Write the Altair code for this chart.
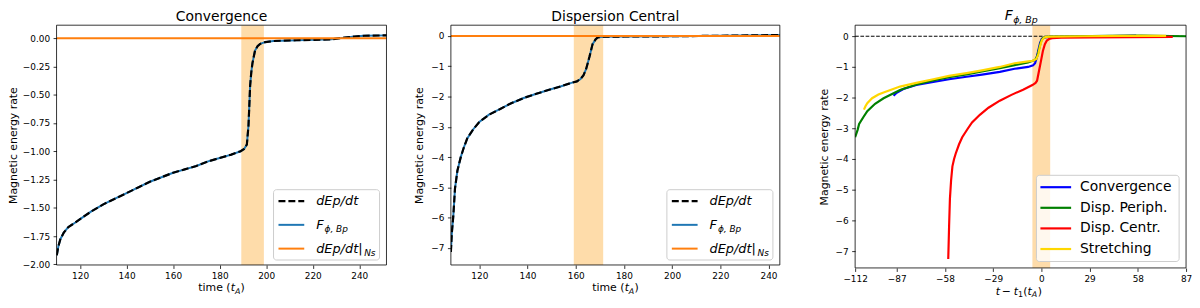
import altair as alt
import pandas as pd

FONT = "DejaVu Sans"

# ---------------- data ----------------
# Panel 1: Convergence
conv_time = [110.0, 110.7, 111.5, 113.0, 115.0, 118.0, 120.0, 125.0, 130.0, 135.0,
             140.0, 145.0, 150.0, 155.0, 160.0, 165.0, 170.0, 175.0, 180.0, 185.0,
             189.0, 190.5, 191.7, 192.4, 193.1, 193.6, 194.1, 195.2, 196.3, 197.4,
             199.5, 203.0, 213.0, 228.0, 233.6, 238.0, 242.0, 252.0]
conv_dep_dt = [-1.92, -1.84, -1.78, -1.72, -1.67, -1.63, -1.60, -1.53, -1.47, -1.42,
               -1.37, -1.32, -1.27, -1.23, -1.19, -1.16, -1.13, -1.09, -1.06, -1.03,
               -1.00, -0.98, -0.94, -0.77, -0.42, -0.30, -0.22, -0.11, -0.07, -0.05,
               -0.035, -0.025, -0.018, -0.01, 0.005, 0.015, 0.022, 0.025]
conv_f_bp = list(conv_dep_dt)
conv_ns_time = [110.0, 150.0, 190.0, 200.0, 252.0]
conv_ns = [0.0, 0.0, 0.0, 0.0, 0.0]
conv_band = [189.3, 199.0]

# Panel 2: Dispersion Central
disp_time = [108.2, 108.6, 109.2, 109.9, 110.9, 112.3, 113.5, 115.0, 117.5, 120.0,
             124.0, 128.7, 133.0, 138.7, 144.0, 149.3, 154.0, 158.2, 160.5, 162.0,
             163.2, 164.3, 165.7, 167.0, 168.2, 169.1, 171.1, 180.0, 200.0, 220.0, 244.7]
disp_dep_dt = [-7.13, -6.50, -5.95, -5.04, -4.45, -4.00, -3.70, -3.38, -3.08, -2.84,
               -2.60, -2.41, -2.23, -2.04, -1.90, -1.77, -1.66, -1.55, -1.50, -1.42,
               -1.30, -1.10, -0.69, -0.27, -0.12, -0.05, -0.025, -0.02, -0.01, 0.005, 0.03]
disp_f_bp = list(disp_dep_dt)
disp_ns_time = [108.2, 150.0, 170.0, 200.0, 244.7]
disp_ns = [0.0, 0.0, 0.0, 0.0, 0.0]
disp_band = [159.2, 171.4]

# Panel 3: F_phi,Bp vs t - t1
series_names = ["Convergence", "Disp. Periph.", "Disp. Centr.", "Stretching"]
series_colors = ["#0000ff", "#008000", "#ff0000", "#ffd700"]

fc_t = [-88.9, -87.0, -83.0, -75.2, -65.0, -55.5, -45.0, -35.7, -25.0, -16.1,
        -8.0, -5.0, -3.8, -2.8, -1.8, -0.8, 0.2, 1.2, 3.0, 6.0, 20.0, 35.0, 50.0, 57.0]
fc_v = [-1.94, -1.84, -1.72, -1.59, -1.49, -1.40, -1.32, -1.25, -1.16, -1.06,
        -1.00, -0.95, -0.88, -0.70, -0.45, -0.22, -0.09, -0.05, -0.03, -0.02, -0.01, 0.0, 0.01, 0.02]

fp_t = [-112.0, -110.5, -109.6, -107.0, -104.7, -100.0, -94.9, -85.0, -75.2, -65.0,
        -55.5, -45.0, -35.7, -25.0, -16.1, -8.0, -5.2, -3.5, -2.3, -1.3,
        -0.3, 0.8, 2.0, 5.0, 20.0, 40.0, 60.0, 87.0]
fp_v = [-3.29, -3.05, -2.86, -2.63, -2.44, -2.20, -2.02, -1.75, -1.57, -1.44,
        -1.33, -1.24, -1.15, -1.04, -0.94, -0.85, -0.80, -0.76, -0.62, -0.40,
        -0.18, -0.07, -0.03, -0.01, 0.0, 0.01, 0.02, 0.0]

dc_t = [-56.0, -55.5, -55.0, -54.3, -53.5, -52.5, -51.5, -49.5, -47.6, -44.5,
        -41.7, -37.0, -31.8, -25.0, -18.0, -11.0, -5.4, -3.5, -2.6, -1.5,
        -0.3, 0.9, 2.1, 3.3, 4.6, 6.5, 12.0, 30.0, 55.0, 79.0]
dc_v = [-7.26, -6.20, -5.30, -4.70, -4.24, -4.00, -3.82, -3.52, -3.29, -3.03,
        -2.81, -2.56, -2.33, -2.10, -1.91, -1.74, -1.59, -1.52, -1.45, -1.15,
        -0.82, -0.48, -0.26, -0.14, -0.09, -0.06, -0.05, -0.04, -0.03, -0.02]

fs_t = [-106.7, -105.8, -104.7, -101.8, -98.0, -94.9, -85.0, -75.2, -65.0, -55.5,
        -45.0, -35.7, -25.0, -16.1, -8.0, -5.2, -3.0, -1.8, -0.8, 0.3,
        1.5, 3.0, 6.0, 25.0, 50.0, 75.0]
fs_v = [-2.39, -2.28, -2.18, -2.02, -1.90, -1.83, -1.64, -1.52, -1.40, -1.29,
        -1.20, -1.11, -1.00, -0.88, -0.82, -0.80, -0.74, -0.58, -0.32, -0.13,
        -0.05, -0.02, -0.01, 0.0, 0.01, 0.01]

zero_t = [-112.0, 87.0]
zero_v = [0.0, 0.0]
f_band = [-5.4, 5.3]

conv_xticks = [120, 140, 160, 180, 200, 220, 240]
conv_yticks = [-2.0, -1.75, -1.5, -1.25, -1.0, -0.75, -0.5, -0.25, 0.0]
disp_xticks = [120, 140, 160, 180, 200, 220, 240]
disp_yticks = [-7, -6, -5, -4, -3, -2, -1, 0]
f_xticks = [-112, -87, -58, -29, 0, 29, 58, 87]
f_yticks = [-7, -6, -5, -4, -3, -2, -1, 0]

# ---------------- helpers ----------------
ONE = pd.DataFrame({"k": [0]})
BAND = "#fedcaa"
AX = dict(labelFont=FONT, labelFontSize=9, labelColor="black", tickColor="black",
          tickWidth=0.8, tickSize=3.5, labelPadding=3.5, domain=False, grid=False,
          labelFlush=False, labelOverlap=False)


def df(t, v):
    return pd.DataFrame({"t": t, "v": v})


def enc_x(dom, ticks):
    return alt.X("t:Q", scale=alt.Scale(domain=dom, nice=False, zero=False),
                 axis=alt.Axis(values=ticks, format="d", title=None, **AX))


def enc_y(dom, ticks, fmt, title_x):
    return alt.Y("v:Q", scale=alt.Scale(domain=dom, nice=False, zero=False),
                 axis=alt.Axis(values=ticks, format=fmt, title="Magnetic energy rate",
                               titleFont=FONT, titleFontSize=11, titleFontWeight="normal",
                               titleColor="black", titleX=title_x, **AX))


def line(data, ex, ey, color, width, dash=None):
    kw = dict(color=color, strokeWidth=width, clip=True)
    if dash:
        kw["strokeDash"] = dash
    return alt.Chart(data).mark_line(**kw).encode(x=ex, y=ey)


def band(b, ex, H):
    d = pd.DataFrame({"t": [b[0]], "t2": [b[1]]})
    return alt.Chart(d).mark_rect(color=BAND, clip=True).encode(
        x=ex, x2="t2:Q", y=alt.value(0), y2=alt.value(H))


def txt(s, x, y, size, italic=False, align="left", baseline="alphabetic"):
    kw = dict(text=s, font=FONT, fontSize=size, align=align, baseline=baseline, color="black")
    if italic:
        kw["fontStyle"] = "italic"
    return alt.Chart(ONE).mark_text(**kw).encode(x=alt.value(x), y=alt.value(y))


def hrule(x1, x2, y, color, width, dash=None):
    kw = dict(color=color, strokeWidth=width)
    if dash:
        kw["strokeDash"] = dash
    return alt.Chart(ONE).mark_rule(**kw).encode(x=alt.value(x1), x2=alt.value(x2), y=alt.value(y))


def box(x1, x2, y1, y2):
    return alt.Chart(ONE).mark_rect(fill="white", fillOpacity=0.8, stroke="#cccccc",
                                    strokeWidth=1, cornerRadius=3).encode(
        x=alt.value(x1), x2=alt.value(x2), y=alt.value(y1), y2=alt.value(y2))


def frame(W, H):
    return alt.Chart(ONE).mark_rect(fillOpacity=0, stroke="black", strokeWidth=0.8).encode(
        x=alt.value(0), x2=alt.value(W), y=alt.value(0), y2=alt.value(H))


def time_title(W, H):
    c = W / 2
    yb = H + 26.5
    return [txt("time (", c - 23.4, yb, 11),
            txt("t", c + 9.4, yb, 11, italic=True),
            txt("A", c + 13.6, yb + 2.5, 8, italic=True),
            txt(")", c + 19.2, yb, 11)]


def energy_legend(W, H):
    x1, x2 = W - 114, W - 7
    y1, y2 = H - 76, H - 5
    e = [y1 + 11.5, y1 + 35.5, y1 + 59.5]
    lx = x1 + 43
    return [box(x1, x2, y1, y2),
            hrule(x1 + 5, x1 + 31, e[0], "black", 2.2, [7, 3]),
            hrule(x1 + 5, x1 + 31, e[1], "#1f77b4", 2),
            hrule(x1 + 5, x1 + 31, e[2], "#ff7f0e", 2),
            txt("dEp/dt", lx, e[0] + 4, 13, italic=True),
            txt("F", lx, e[1] + 4, 13, italic=True),
            txt("ϕ, Bp", lx + 8.5, e[1] + 7.5, 9, italic=True),
            txt("dEp/dt|", lx, e[2] + 4, 13, italic=True),
            txt("Ns", lx + 48.5, e[2] + 7.5, 9, italic=True)]


def energy_panel(W, H, title, t, dep, fbp, ns_t, ns, b, xdom, ydom, xt, yt, fmt, tx):
    ex = enc_x(xdom, xt)
    ey = enc_y(ydom, yt, fmt, tx)
    layers = [band(b, ex, H),
              line(df(t, fbp), ex, ey, "#1f77b4", 2),
              line(df(t, dep), ex, ey, "black", 2.2, [7, 3]),
              line(df(ns_t, ns), ex, ey, "#ff7f0e", 2),
              frame(W, H),
              txt(title, W / 2, -4.5, 14, align="center")]
    layers += energy_legend(W, H)
    layers += time_title(W, H)
    return alt.layer(*layers).properties(width=W, height=H)


W1, H1 = 333, 242
W2, H2 = 332, 242
W3, H3 = 334, 245

p1 = energy_panel(W1, H1, "Convergence", conv_time, conv_dep_dt, conv_f_bp,
                  conv_ns_time, conv_ns, conv_band, [109.9, 251.7], [-2.006, 0.115],
                  conv_xticks, conv_yticks, ".2f", -38)
p2 = energy_panel(W2, H2, "Dispersion Central", disp_time, disp_dep_dt, disp_f_bp,
                  disp_ns_time, disp_ns, disp_band, [108.2, 244.7], [-7.56, 0.354],
                  disp_xticks, disp_yticks, "d", -26.5)

# Panel 3
ex3 = enc_x([-112, 87], f_xticks)
ey3 = enc_y([-7.55, 0.36], f_yticks, "d", -26)
series_data = [(fc_t, fc_v), (fp_t, fp_v), (dc_t, dc_v), (fs_t, fs_v)]
layers3 = [band(f_band, ex3, H3),
           line(df(zero_t, zero_v), ex3, ey3, "black", 1, [3.7, 1.6])]
for (tt, vv), col in zip(series_data, series_colors):
    layers3.append(line(df(tt, vv), ex3, ey3, col, 2.2))
layers3.append(frame(W3, H3))
c3 = W3 / 2
layers3 += [txt("F", c3 - 16, -5, 14, italic=True),
            txt("ϕ, Bp", c3 - 7.5, -2.5, 9.5, italic=True)]
lx1, lx2 = W3 - 151, W3 - 7
ly1, ly2 = H3 - 93.5, H3 - 6.5
layers3.append(box(lx1, lx2, ly1, ly2))
for i, (name, col) in enumerate(zip(series_names, series_colors)):
    yy = ly1 + 12 + i * 20.8
    layers3.append(hrule(lx1 + 4, lx1 + 35, yy, col, 2.2))
    layers3.append(txt(name, lx1 + 44, yy, 14, baseline="middle"))
yb3 = H3 + 27
layers3 += [txt("t", c3 - 25, yb3, 11, italic=True),
            txt("−", c3 - 14.3, yb3, 11, align="center"),
            txt("t", c3 - 7, yb3, 11, italic=True),
            txt("1", c3 - 2.6, yb3 + 2.5, 8),
            txt("(", c3 + 2.8, yb3, 11),
            txt("t", c3 + 7.0, yb3, 11, italic=True),
            txt("A", c3 + 11.2, yb3 + 2.5, 8, italic=True),
            txt(")", c3 + 17.2, yb3, 11)]
p3 = alt.layer(*layers3).properties(width=W3, height=H3)


def spacer(w):
    return alt.Chart(ONE).mark_point(opacity=0).encode(
        x=alt.value(0), y=alt.value(0)).properties(width=w, height=10)


chart = alt.hconcat(p1, spacer(65), p2, spacer(76), p3, spacing=0, bounds="flush").properties(
    padding=0, background="white").configure_view(strokeWidth=0)

chart.save("out.html", embed_options={"renderer": "svg", "actions": False})
